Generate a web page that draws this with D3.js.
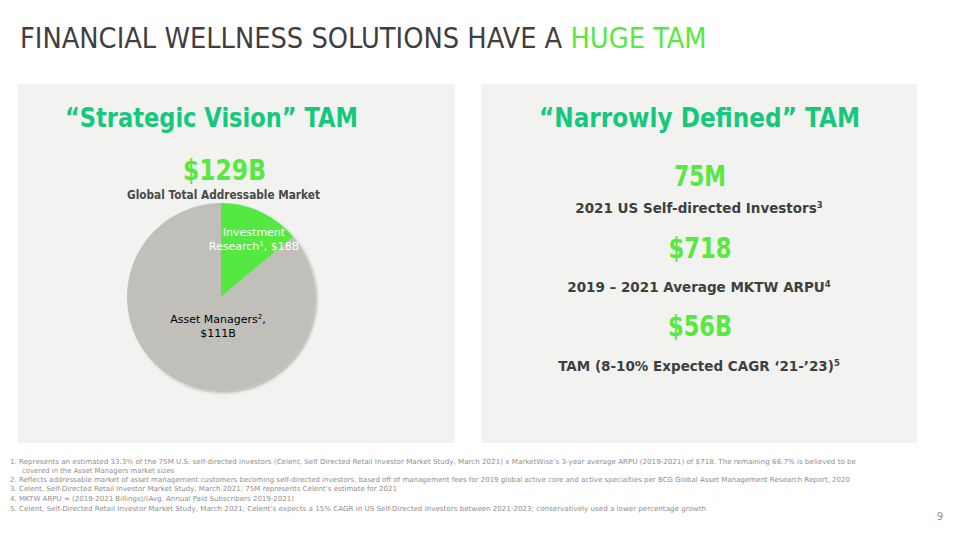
<!DOCTYPE html>
<html><head><meta charset="utf-8">
<script src="https://cdn.jsdelivr.net/npm/d3@7"></script>
<style>body{margin:0;background:#fff;}svg{display:block;}</style>
</head><body>
<script>
// ---- data ----
const titleParts = ["FINANCIAL WELLNESS SOLUTIONS HAVE A ", "HUGE TAM"];
const pieLabels = ["Investment Research", "Asset Managers"];
const pieValues = [18, 111];
const pieTotalLabel = "$129B";
const rightValues = ["75M", "$718", "$56B"];
const rightCaptions = ["2021 US Self-directed Investors", "2019 – 2021 Average MKTW ARPU", "TAM (8-10% Expected CAGR ‘21-’23)"];
const rightSup = ["3", "4", "5"];
const footnotes = [
  "1. Represents an estimated 33.3% of the 75M U.S. self-directed investors (Celent, Self Directed Retail Investor Market Study, March 2021) x MarketWise’s 3-year average ARPU (2019-2021) of $718.  The remaining 66.7% is believed to be",
  "covered in the Asset Managers market sizes",
  "2. Reflects addressable market of asset management customers becoming self-directed investors, based off of management fees for 2019 global active core and active specialties per BCG Global Asset Management Research Report, 2020",
  "3. Celent, Self-Directed Retail Investor Market Study, March 2021; 75M represents Celent’s estimate for 2021",
  "4. MKTW ARPU = (2019-2021 Billings)/(Avg. Annual Paid Subscribers 2019-2021)",
  "5. Celent, Self-Directed Retail Investor Market Study, March 2021; Celent’s expects a 15% CAGR in US Self-Directed Investors between 2021-2023; conservatively used a lower percentage growth"
];

const W = 960, H = 540;
const GREEN = "#57e842", TEAL = "#14c97c", DARK = "#3f3f3f";
const FONT = "'DejaVu Sans', Verdana, sans-serif";
const svg = d3.select("body").append("svg").attr("width", W).attr("height", H);

// title (single text, fitted by measuring)
const TFONT = "'Liberation Sans Narrow','DejaVu Sans Condensed',sans-serif";
const title = svg.append("text").attr("x", 20).attr("y", 48).attr("font-family", TFONT).attr("font-size", 31);
title.append("tspan").attr("fill", DARK).text(titleParts[0]);
title.append("tspan").attr("fill", GREEN).text(titleParts[1]);
const tw = title.node().getComputedTextLength();
title.attr("font-size", 31 * 687 / tw);

// panels
svg.append("rect").attr("x", 18).attr("y", 84).attr("width", 437).attr("height", 359).attr("fill", "#f2f2f1");
svg.append("rect").attr("x", 481).attr("y", 84).attr("width", 436).attr("height", 359).attr("fill", "#f2f2f1");

function txt(x, y, s, size, color, len, weight) {
  const e = svg.append("text").attr("x", x).attr("y", y).attr("text-anchor", "middle")
    .attr("font-family", FONT).attr("font-size", size).attr("font-weight", weight || "bold")
    .attr("fill", color).text(s);
  if (len) e.attr("textLength", len).attr("lengthAdjust", "spacingAndGlyphs");
  return e;
}

// left panel
txt(211.5, 127, "“Strategic Vision” TAM", 27, TEAL, 293);
txt(224.5, 180, pieTotalLabel, 28, GREEN, 83);
txt(223.5, 199, "Global Total Addressable Market", 12.5, "#4a4a4a", 193);

const cx = 221, cy = 297, r = 94;
const pie = d3.pie().sort(null).value(d => d)(pieValues);
const arc = d3.arc().innerRadius(0).outerRadius(r);
const defs = svg.append("defs");
const f = defs.append("filter").attr("id", "sh").attr("x", "-20%").attr("y", "-20%").attr("width", "140%").attr("height", "140%");
f.append("feDropShadow").attr("dx", 2).attr("dy", 2).attr("stdDeviation", 1.5).attr("flood-color", "#000").attr("flood-opacity", 0.25);
const g = svg.append("g").attr("transform", `translate(${cx},${cy})`).attr("filter", "url(#sh)");
const colors = [GREEN, "#c0bfba"];
g.selectAll("path").data(pie).join("path").attr("d", arc).attr("fill", (d, i) => colors[i]);

// slice labels
function lab(x, y, lines, color) {
  const e = svg.append("text").attr("text-anchor", "middle").attr("font-family", FONT)
    .attr("font-size", 11).attr("fill", color);
  lines.forEach((l, i) => {
    const ts = e.append("tspan").attr("x", x).attr("y", y + i * 13.5);
    l.forEach(p => {
      const s = ts.append("tspan").text(p.t);
      if (p.sup) s.attr("font-size", 7).attr("baseline-shift", "super");
    });
  });
}
const a0 = pieLabels[0].split(" ");
lab(254, 236, [[{t: a0[0]}], [{t: a0[1]}, {t: "1", sup: true}, {t: ", $" + pieValues[0] + "B"}]], "#ffffff");
lab(218, 323, [[{t: pieLabels[1]}, {t: "2", sup: true}, {t: ","}], [{t: "$" + pieValues[1] + "B"}]], "#000000");

// right panel
txt(699.5, 127, "“Narrowly Defined” TAM", 27, TEAL, 321);
const valY = [186, 258, 336], valW = [52, 63, 64];
const capY = [213, 292, 371];
rightValues.forEach((v, i) => txt(700, valY[i], v, 29, GREEN, valW[i]));
rightCaptions.forEach((c, i) => {
  const e = svg.append("text").attr("x", 699).attr("y", capY[i]).attr("text-anchor", "middle")
    .attr("font-family", FONT).attr("font-size", 13.5).attr("font-weight", "bold").attr("fill", DARK);
  e.append("tspan").text(c);
  e.append("tspan").attr("font-size", 8.5).attr("dy", -5).text(rightSup[i]);
});

// footnotes
const fnX = [10, 22, 10, 10, 10, 10], fnY = [464, 473, 482, 491, 501, 511], fnEnd = [856, 174, 850, 397, 294, 706];
footnotes.forEach((s, i) => {
  svg.append("text").attr("x", fnX[i]).attr("y", fnY[i]).attr("font-family", FONT)
    .attr("font-size", 7).attr("fill", "#8e8e8e")
    .attr("textLength", fnEnd[i] - fnX[i]).attr("lengthAdjust", "spacingAndGlyphs").text(s);
});
svg.append("text").attr("x", 940).attr("y", 520).attr("text-anchor", "middle").attr("font-family", FONT)
  .attr("font-size", 10).attr("fill", "#8e8e8e").text("9");
</script>
</body></html>
